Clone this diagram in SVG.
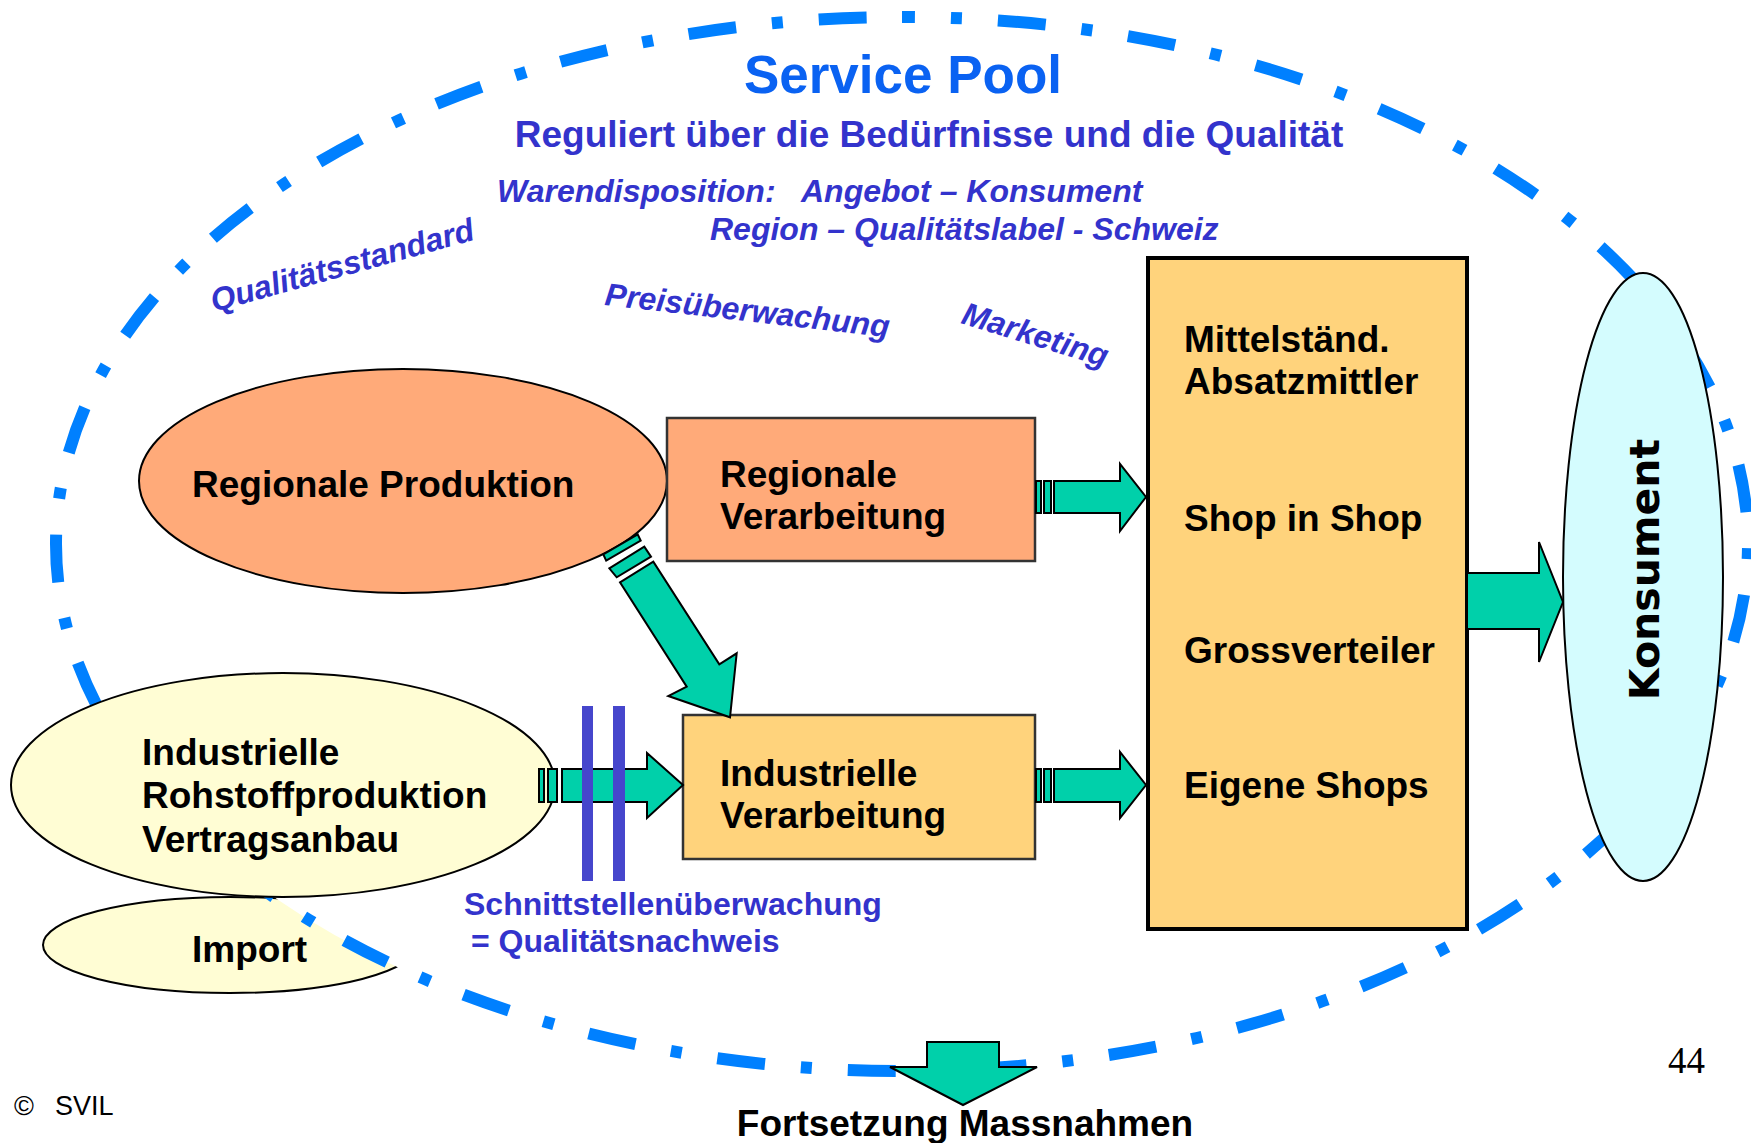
<svg xmlns="http://www.w3.org/2000/svg" width="1751" height="1143" viewBox="0 0 1751 1143">
<style>
.t{font-family:"Liberation Sans",Arial,sans-serif;font-weight:bold;font-size:37px;fill:#000}
.bl{font-family:"Liberation Sans",Arial,sans-serif;font-weight:bold;fill:#3333CC}
.it{font-family:"Liberation Sans",Arial,sans-serif;font-weight:bold;font-style:italic;font-size:32px;fill:#3333CC}
.ar{fill:#00D0AA;stroke:#000;stroke-width:2;stroke-linejoin:miter}
.bar{fill:#4646CC}
</style>
<rect width="1751" height="1143" fill="#fff"/>

<g id="import">
<ellipse cx="230" cy="945" rx="187" ry="48" fill="#FFFDD4" stroke="#000" stroke-width="2"/>
</g>

<g id="service-pool">
<path d="M902 17 A846 527 0 1 1 902 1071 A846 527 0 1 1 902 17 Z" fill="#fff" stroke="#0080FF" stroke-width="12" stroke-dasharray="48 36 11 36" stroke-dashoffset="35"/>
<text x="903" y="93" text-anchor="middle" font-family="Liberation Sans, Arial, sans-serif" font-weight="bold" font-size="53" fill="#0A62F2">Service Pool</text>
<text class="bl" x="929" y="147" text-anchor="middle" font-size="37">Reguliert über die Bedürfnisse und die Qualität</text>
<text class="it" y="202"><tspan x="497">Warendisposition:</tspan><tspan x="801">Angebot – Konsument</tspan></text>
<text class="it" x="710" y="240">Region – Qualitätslabel - Schweiz</text>
<text class="it" transform="translate(214 312) rotate(-15.5)">Qualitätsstandard</text>
<text class="it" transform="translate(604 305) rotate(6.5)">Preisüberwachung</text>
<text class="it" transform="translate(960 323) rotate(17)">Marketing</text>
</g>

<text class="t" x="192" y="962">Import</text>

<g id="regionale-produktion">
<ellipse cx="403" cy="481" rx="264" ry="112" fill="#FFAA79" stroke="#000" stroke-width="2"/>
<text class="t" x="192" y="497">Regionale Produktion</text>
</g>

<g id="regionale-verarbeitung">
<rect x="667" y="418" width="368" height="143" fill="#FFAA79" stroke="#333" stroke-width="2.5"/>
<text class="t" x="720" y="487">Regionale</text>
<text class="t" x="720" y="529">Verarbeitung</text>
</g>

<g id="industrielle-rohstoffproduktion">
<ellipse cx="283" cy="785" rx="272" ry="112" fill="#FFFDD4" stroke="#000" stroke-width="2"/>
<text class="t" x="142" y="765">Industrielle</text>
<text class="t" x="142" y="808">Rohstoffproduktion</text>
<text class="t" x="142" y="852">Vertragsanbau</text>
</g>

<g id="industrielle-verarbeitung">
<rect x="683" y="715" width="352" height="144" fill="#FFD37C" stroke="#333" stroke-width="2.5"/>
<text class="t" x="720" y="786">Industrielle</text>
<text class="t" x="720" y="828">Verarbeitung</text>
</g>

<g id="absatzmittler">
<rect x="1148" y="258" width="319" height="671" fill="#FFD37C" stroke="#000" stroke-width="4"/>
<text class="t" x="1184" y="352">Mittelständ.</text>
<text class="t" x="1184" y="394">Absatzmittler</text>
<text class="t" x="1184" y="531">Shop in Shop</text>
<text class="t" x="1184" y="663">Grossverteiler</text>
<text class="t" x="1184" y="798">Eigene Shops</text>
</g>

<g id="konsument">
<ellipse cx="1643" cy="577" rx="80" ry="304" fill="#D4FCFE" stroke="#000" stroke-width="2"/>
<text transform="translate(1659 569.5) rotate(-90)" text-anchor="middle" font-family="DejaVu Sans, Verdana, sans-serif" font-weight="bold" font-size="41" fill="#000">Konsument</text>
</g>

<g id="connectors">
<!-- Regionale Produktion -> Industrielle Verarbeitung -->
<polygon class="ar" points="603.3,554.3 637.7,534.3 640.7,540.5 606.2,560.7"/>
<polygon class="ar" points="609.3,568.3 644.3,546.7 651,556.7 616.7,577.3"/>
<polygon class="ar" points="620,582.3 653.3,561.7 719.3,664.3 736.7,653.3 730,717.3 668.3,696 686.7,686.7"/>
<!-- Regionale Verarbeitung -> Absatzmittler -->
<rect class="ar" x="1036" y="481" width="5" height="32"/>
<rect class="ar" x="1044" y="481" width="7" height="32"/>
<polygon class="ar" points="1054,481 1120,481 1120,464 1146,497 1120,531 1120,513 1054,513"/>
<!-- Industrielle Verarbeitung -> Absatzmittler -->
<rect class="ar" x="1036" y="769" width="5" height="33"/>
<rect class="ar" x="1044" y="769" width="7" height="33"/>
<polygon class="ar" points="1054,769 1120,769 1120,752 1146,785 1120,818 1120,802 1054,802"/>
<!-- Industrielle Rohstoffproduktion -> Industrielle Verarbeitung -->
<rect class="ar" x="539" y="769" width="5" height="33"/>
<rect class="ar" x="548" y="769" width="9" height="33"/>
<polygon class="ar" points="562,769 647,769 647,753 683,785 647,818 647,802 562,802"/>
<!-- Absatzmittler -> Konsument -->
<polygon class="ar" points="1467,573 1539,573 1539,542 1563,602 1539,662 1539,629 1467,629"/>
<!-- Fortsetzung Massnahmen -->
<polygon class="ar" points="927,1042 999,1042 999,1067 1037,1067 963,1105 890,1067 927,1067"/>
<!-- interface bars -->
<rect class="bar" x="582" y="706" width="11" height="175"/>
<rect class="bar" x="613" y="706" width="12" height="175"/>
</g>

<text class="bl" x="464" y="915" font-size="32">Schnittstellenüberwachung</text>
<text class="bl" x="471" y="952" font-size="32">= Qualitätsnachweis</text>

<text class="t" x="965" y="1136" text-anchor="middle">Fortsetzung Massnahmen</text>
<text x="1668" y="1073" font-family="Liberation Serif, Times New Roman, serif" font-size="37" fill="#000">44</text>
<text y="1115" font-family="Liberation Sans, Arial, sans-serif" font-size="27" fill="#000"><tspan x="14">©</tspan><tspan x="55">SVIL</tspan></text>
</svg>
